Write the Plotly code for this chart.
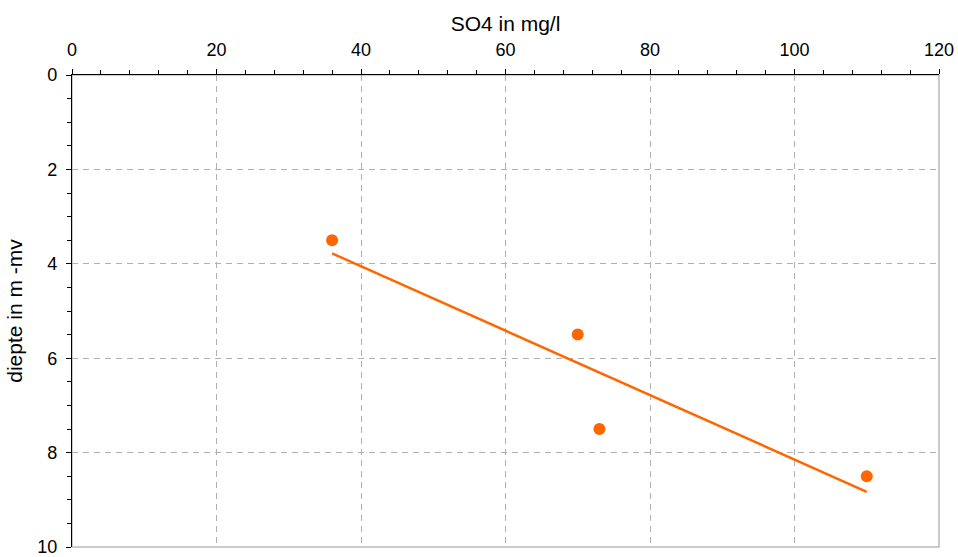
import plotly.graph_objects as go

so4 = [36, 70, 73, 110]
depth = [3.5, 5.5, 7.5, 8.5]
trend_x = [36, 110]
trend_y = [3.78, 8.83]
x_ticks = [0, 20, 40, 60, 80, 100, 120]
y_ticks = [0, 2, 4, 6, 8, 10]

orange = "#FF6600"
fig = go.Figure()
fig.add_trace(go.Scatter(x=trend_x, y=trend_y, mode="lines",
                         line=dict(color=orange, width=2.5), showlegend=False))
fig.add_trace(go.Scatter(x=so4, y=depth, mode="markers",
                         marker=dict(color=orange, size=12), showlegend=False))

fam = "Liberation Sans, Arial, sans-serif"
font = dict(family=fam, size=21, color="#000000")
tfont = dict(family=fam, size=18, color="#000000")
fig.update_layout(
    width=958, height=557,
    margin=dict(l=72, r=19, t=75, b=10),
    paper_bgcolor="white", plot_bgcolor="white",
    font=font,
    shapes=[dict(type="rect", xref="paper", yref="paper", x0=0, x1=1, y0=0, y1=1,
                 line=dict(color="#BBBBBB", width=1.5), layer="below")],
)
fig.update_xaxes(
    side="top", range=[0, 120], tickvals=x_ticks, ticktext=[str(v) for v in x_ticks],
    automargin=False, tickfont=tfont, ticklabelstandoff=6, ticklabeloverflow="allow",
    showline=True, linecolor="#000000", linewidth=1.2,
    ticks="outside", ticklen=5, tickcolor="#000000", tickwidth=1.2,
    minor=dict(dtick=4, ticks="outside", ticklen=4, tickcolor="#000000", tickwidth=1, showgrid=False),
    showgrid=True, gridcolor="#B0B0B0", griddash="6px,5px", gridwidth=1,
    zeroline=False, title=dict(text="SO4 in mg/l", standoff=2, font=font),
)
fig.update_yaxes(
    range=[10, 0], tickvals=y_ticks, ticktext=[str(v) for v in y_ticks],
    automargin=False, tickfont=tfont, ticklabelstandoff=5, ticklabeloverflow="allow",
    showline=True, linecolor="#000000", linewidth=1.2,
    ticks="outside", ticklen=5, tickcolor="#000000", tickwidth=1.2,
    minor=dict(dtick=0.5, ticks="outside", ticklen=4, tickcolor="#000000", tickwidth=1, showgrid=False),
    showgrid=True, gridcolor="#B0B0B0", griddash="6px,5px", gridwidth=1,
    zeroline=False, title=dict(text="diepte in m -mv", standoff=8, font=font),
)
fig.write_html("out.html")
